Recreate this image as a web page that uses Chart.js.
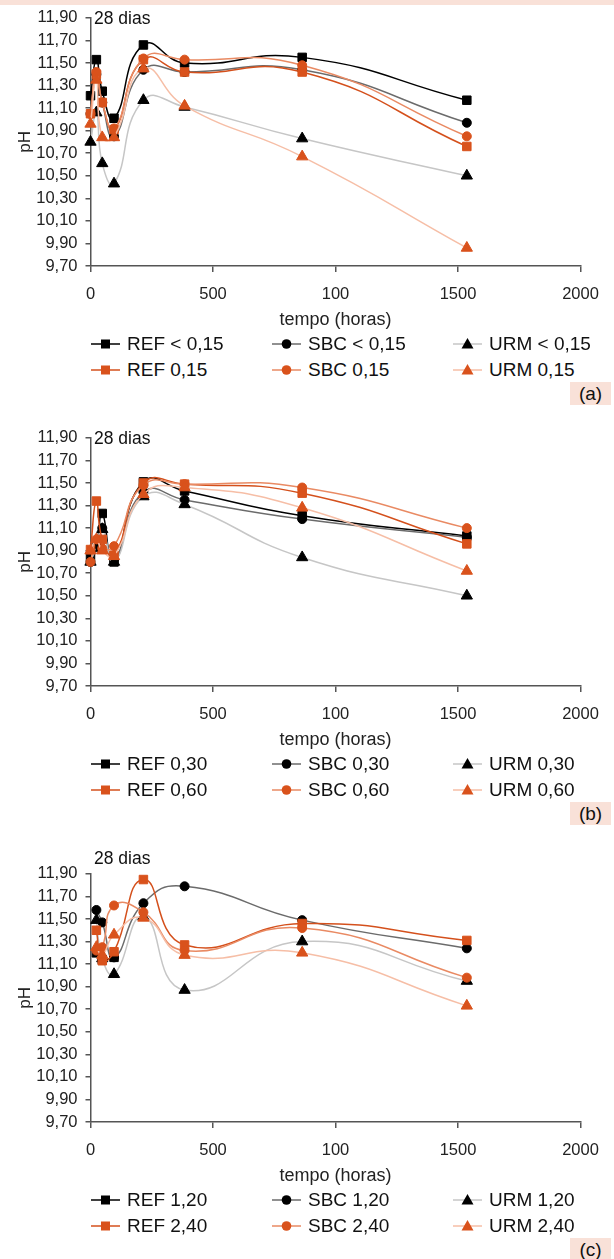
<!DOCTYPE html>
<html>
<head>
<meta charset="utf-8">
<script src="https://cdn.jsdelivr.net/npm/chart.js@4.4.1/dist/chart.umd.min.js"></script>
<style>
  body { margin: 0; width: 614px; height: 1259px; position: relative; overflow: hidden; background: #fff;
         font-family: "Liberation Sans", Arial, sans-serif; color: #111; }
  .band { position: absolute; left: 0; top: 0; width: 614px; height: 5px; background: #f9e1d8; }
  .panel { position: absolute; left: 0; width: 614px; height: 410px; }
  .panel canvas { position: absolute; left: 0; top: 0; }
  .dias { position: absolute; left: 94px; font-size: 17.5px; line-height: 20px; }
  .leg { position: absolute; height: 20px; font-size: 19px; line-height: 20px; white-space: nowrap; }
  .leg svg { position: absolute; left: 0; top: 3px; }
  .leg span { position: absolute; left: 36px; top: 0; }
  .tag { position: absolute; left: 570px; width: 41px; height: 23px; background: #f9e1d8;
         font-size: 19px; line-height: 23px; text-align: center; }
</style>
</head>
<body>
<div class="band"></div>
<div id="panels"></div>
<script>
// tempo (horas)
const hours = [0, 24, 48, 96, 216, 384, 864, 1536];
const hoursC = [24, 48, 96, 216, 384, 864, 1536];

const xTickValues = [0, 500, 1000, 1500, 2000];
const xTickLabels = ['0', '500', '100', '1500', '2000'];
const yTickLabels = ['9,70', '9,90', '10,10', '10,30', '10,50', '10,70', '10,90', '11,10', '11,30', '11,50', '11,70', '11,90'];

// (a)
const labelsA = ['REF < 0,15', 'SBC < 0,15', 'URM < 0,15', 'REF 0,15', 'SBC 0,15', 'URM 0,15'];
const refA1 = [11.21, 11.53, 11.25, 11.01, 11.66, 11.50, 11.55, 11.17];
const sbcA1 = [11.05, 11.40, 11.15, 10.85, 11.44, 11.42, 11.44, 10.97];
const urmA1 = [10.80, 11.06, 10.61, 10.43, 11.17, 11.11, 10.83, 10.50];
const refA2 = [11.05, 11.40, 11.15, 10.91, 11.53, 11.42, 11.42, 10.76];
const sbcA2 = [11.05, 11.42, 11.15, 10.92, 11.54, 11.53, 11.48, 10.85];
const urmA2 = [10.96, 11.35, 10.84, 10.84, 11.45, 11.12, 10.67, 9.86];

// (b)
const labelsB = ['REF 0,30', 'SBC 0,30', 'URM 0,30', 'REF 0,60', 'SBC 0,60', 'URM 0,60'];
const refB1 = [10.85, 10.95, 11.23, 10.80, 11.51, 11.43, 11.21, 11.03];
const sbcB1 = [10.80, 10.93, 11.10, 10.82, 11.42, 11.35, 11.18, 11.02];
const urmB1 = [10.80, 10.95, 11.09, 10.80, 11.38, 11.31, 10.84, 10.50];
const refB2 = [10.91, 11.34, 11.00, 10.86, 11.50, 11.49, 11.41, 10.96];
const sbcB2 = [10.80, 11.00, 10.92, 10.94, 11.48, 11.49, 11.46, 11.10];
const urmB2 = [10.90, 11.00, 10.90, 10.85, 11.40, 11.46, 11.28, 10.72];

// (c)
const labelsC = ['REF 1,20', 'SBC 1,20', 'URM 1,20', 'REF 2,40', 'SBC 2,40', 'URM 2,40'];
const refC1 = [11.20, 11.14, 11.16, null, null, null, null];
const sbcC1 = [11.58, 11.47, 11.16, 11.64, 11.79, 11.49, 11.24];
const urmC1 = [11.49, 11.15, 11.01, 11.52, 10.87, 11.30, 10.95];
const refC2 = [11.40, 11.13, 11.21, 11.85, 11.27, 11.46, 11.31];
const sbcC2 = [11.22, 11.25, 11.62, 11.56, 11.22, 11.42, 10.98];
const urmC2 = [11.25, 11.18, 11.36, 11.51, 11.18, 11.20, 10.73];

const looks = [
  { line: '#000000', mark: '#000000', shape: 'rect', r: 6 },
  { line: '#6b6b6b', mark: '#000000', shape: 'circle', r: 4.5 },
  { line: '#c6c6c6', mark: '#000000', shape: 'triangle', r: 6.5 },
  { line: '#d4501c', mark: '#d9521c', shape: 'rect', r: 6 },
  { line: '#e98a63', mark: '#d9521c', shape: 'circle', r: 4.5 },
  { line: '#f6bea6', mark: '#d9521c', shape: 'triangle', r: 6.5 }
];

const panels = [
  { tag: '(a)', top: 0, dias: 8, xs: hours, labels: labelsA, series: [refA1, sbcA1, urmA1, refA2, sbcA2, urmA2] },
  { tag: '(b)', top: 420, dias: 8, xs: hours, labels: labelsB, series: [refB1, sbcB1, urmB1, refB2, sbcB2, urmB2] },
  { tag: '(c)', top: 856, dias: -8, xs: hoursC, labels: labelsC, series: [refC1, sbcC1, urmC1, refC2, sbcC2, urmC2] }
];

function markerSvg(lk) {
  let m;
  if (lk.shape === 'rect') m = '<rect x="10" y="2.5" width="9" height="9" fill="' + lk.mark + '"/>';
  else if (lk.shape === 'circle') m = '<circle cx="14.5" cy="7" r="4.8" fill="' + lk.mark + '"/>';
  else m = '<polygon points="14.5,1 20.5,11.5 8.5,11.5" fill="' + lk.mark + '"/>';
  return '<svg width="29" height="14"><line x1="0" y1="7" x2="29" y2="7" stroke="' + lk.line + '" stroke-width="1.5"/>' + m + '</svg>';
}

const host = document.getElementById('panels');
const tickFont = { family: '"Liberation Sans", Arial, sans-serif', size: 16.5 };

panels.forEach(function (p) {
  const div = document.createElement('div');
  div.className = 'panel';
  div.style.top = p.top + 'px';
  let html = '<canvas width="614" height="340"></canvas>';
  html += '<div class="dias" style="top:' + p.dias + 'px">28 dias</div>';
  const cols = [91, 272, 453];
  p.labels.forEach(function (lab, i) {
    const top = i < 3 ? 334 : 360;
    html += '<div class="leg" style="left:' + cols[i % 3] + 'px;top:' + top + 'px">' + markerSvg(looks[i]) + '<span>' + lab + '</span></div>';
  });
  html += '<div class="tag" style="top:382px">' + p.tag + '</div>';
  div.innerHTML = html;
  host.appendChild(div);

  const datasets = p.series.map(function (vals, i) {
    const lk = looks[i];
    return {
      label: p.labels[i],
      data: p.xs.map(function (x, j) { return { x: x, y: vals[j] }; }),
      borderColor: lk.line,
      borderWidth: 1.5,
      backgroundColor: lk.mark,
      pointBackgroundColor: lk.mark,
      pointBorderColor: lk.mark,
      pointBorderWidth: 1,
      pointStyle: lk.shape,
      pointRadius: lk.r,
      tension: 0.5,
      fill: false,
      clip: false,
      order: 5 - i
    };
  });

  new Chart(div.querySelector('canvas').getContext('2d'), {
    type: 'line',
    data: { datasets: datasets },
    options: {
      responsive: false,
      animation: false,
      devicePixelRatio: 1,
      layout: { padding: { left: 0, right: 33.5, top: 17.7, bottom: 0 } },
      plugins: { legend: { display: false }, tooltip: { enabled: false } },
      scales: {
        x: {
          type: 'linear', min: 0, max: 2000,
          afterFit: function (s) { s.height = 74; },
          afterBuildTicks: function (s) { s.ticks = xTickValues.map(function (v) { return { value: v }; }); },
          ticks: {
            font: tickFont, color: '#222', padding: 13, maxRotation: 0, autoSkip: false,
            callback: function (v) { return xTickLabels[xTickValues.indexOf(v)]; }
          },
          grid: { drawOnChartArea: false, drawTicks: true, tickLength: 6, color: '#555', lineWidth: 1.5 },
          border: { color: '#555', width: 1.5 },
          title: { display: true, text: 'tempo (horas)', color: '#222',
                   font: { family: '"Liberation Sans", Arial, sans-serif', size: 18 }, padding: { top: 9, bottom: 9 } }
        },
        y: {
          min: 9.7, max: 11.9,
          afterFit: function (s) { s.width = 90.5; },
          afterBuildTicks: function (s) {
            s.ticks = yTickLabels.map(function (t) { return { value: parseFloat(t.replace(',', '.')) }; });
          },
          ticks: {
            font: tickFont, color: '#222', padding: 8, autoSkip: false,
            callback: function (v, i) { return yTickLabels[i]; }
          },
          grid: { drawOnChartArea: false, drawTicks: true, tickLength: 5, color: '#555', lineWidth: 1.5 },
          border: { color: '#555', width: 1.5 },
          title: { display: true, text: 'pH', color: '#222',
                   font: { family: '"Liberation Sans", Arial, sans-serif', size: 17 }, padding: { top: 15, bottom: 0 } }
        }
      }
    }
  });
});
</script>
</body>
</html>
